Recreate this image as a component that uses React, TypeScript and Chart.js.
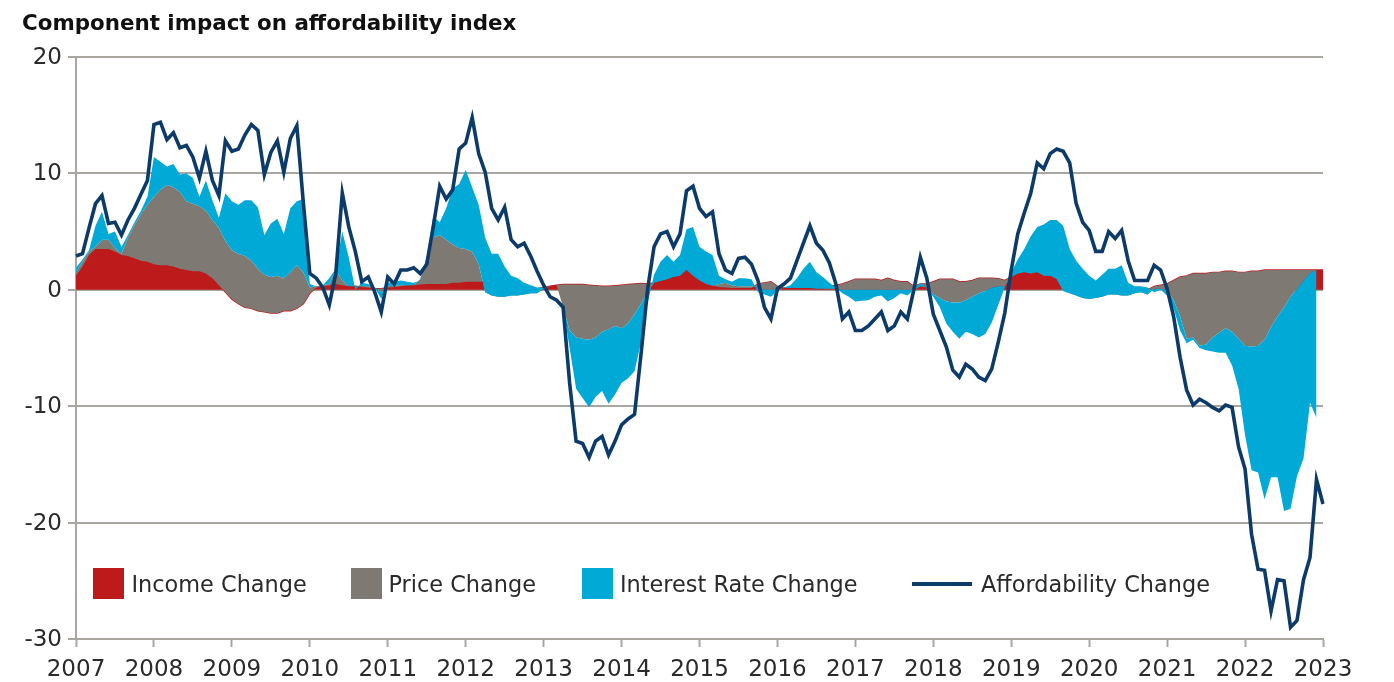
import React, { useEffect, useRef } from 'react';
import { Chart, registerables } from 'chart.js';

Chart.register(...registerables);

// ---- categories: monthly, Jan 2007 .. Jan 2023 ----
const months: string[] = [];
for (let y = 2007; y <= 2023; y++) {
  for (let m = 1; m <= 12; m++) {
    if (y === 2023 && m > 1) break;
    months.push(`${y}-${String(m).padStart(2, '0')}`);
  }
}
const yearTickLabels = ['2007','2008','2009','2010','2011','2012','2013','2014','2015','2016','2017','2018','2019','2020','2021','2022','2023'];
const yTickValues = [20, 10, 0, -10, -20, -30];

// ---- series (component contributions, index points) ----
const incomeChange: (number | null)[] = [
  1.2, 2.0, 3.0, 3.5, 3.5, 3.5, 3.3, 3.0, 2.9, 2.7, 2.5, 2.4,
  2.2, 2.1, 2.1, 2.0, 1.8, 1.7, 1.6, 1.6, 1.4, 1.0, 0.4, -0.2,
  -0.8, -1.2, -1.5, -1.6, -1.8, -1.9, -2.0, -2.0, -1.8, -1.8, -1.6, -1.2,
  -0.3, 0.2, 0.3, 0.4, 0.5, 0.4, 0.3, 0.3, 0.25, 0.2, 0.1, 0.1,
  0.2, 0.25, 0.3, 0.35, 0.4, 0.45, 0.5, 0.5, 0.5, 0.5, 0.6, 0.6,
  0.7, 0.7, 0.7, 0.7, 0.6, 0.5, 0.4, 0.3, 0.2, 0.15, 0.1, 0.1,
  0.2, 0.3, 0.4, 0.45, 0.45, 0.45, 0.45, 0.4, 0.35, 0.3, 0.3, 0.35,
  0.4, 0.45, 0.5, 0.55, 0.5, 0.6, 0.75, 0.9, 1.1, 1.2, 1.7, 1.2,
  0.8, 0.5, 0.35, 0.25, 0.2, 0.15, 0.15, 0.15, 0.15, 0.5, 0.6, 0.7,
  0.3, 0.15, 0.15, 0.15, 0.15, 0.15, 0.1, 0.1, 0.3, 0.4, 0.5, 0.7,
  0.9, 0.9, 0.9, 0.9, 0.8, 1.0, 0.8, 0.7, 0.7, 0.3, 0.5, 0.5,
  0.7, 0.9, 0.9, 0.9, 0.7, 0.7, 0.8, 1.0, 1.0, 1.0, 0.95, 0.8,
  1.1, 1.4, 1.5, 1.4, 1.5, 1.2, 1.2, 0.9, 0.3, 0.1, 0.0, 0.0,
  0.0, 0.0, 0.0, 0.0, 0.0, 0.0, 0.0, 0.0, 0.0, 0.0, 0.3, 0.4,
  0.5, 0.8, 1.1, 1.2, 1.4, 1.4, 1.4, 1.5, 1.5, 1.6, 1.6, 1.5,
  1.5, 1.6, 1.6, 1.7, 1.7, 1.7, 1.7, 1.7, 1.7, 1.7, 1.7, 1.7,
  1.7,
];

const priceChange: (number | null)[] = [
  0.3, 0.4, 0.3, 0.2, 0.8, 0.8, 0.3, 0.1, 1.6, 2.9, 4.0, 4.9,
  5.8, 6.5, 6.9, 6.8, 6.6, 5.9, 5.8, 5.6, 5.4, 5.0, 4.9, 4.4,
  4.2, 4.3, 4.4, 4.1, 3.6, 3.2, 3.1, 3.2, 2.8, 3.3, 3.7, 2.7,
  0.5, 0.1, 0.1, 0.1, 1.2, 0.4, 0.0, 0.0, 0.05, 0.1, 0.1, -0.3,
  0.1, 0.1, 0.1, 0.05, 0.0, 0.45, 2.3, 4.0, 4.2, 3.8, 3.3, 3.0,
  2.8, 2.6, 1.5, -0.9, -1.1, -1.1, -1.0, -0.8, -0.7, -0.55, -0.4, -0.4,
  -0.1, 0.0, 0.0, -1.95, -3.95, -4.55, -4.65, -4.7, -4.45, -3.9, -3.7, -3.45,
  -3.7, -3.35, -2.6, -1.75, -0.7, 0.0, 0.0, 0.0, 0.0, 0.0, 0.0, 0.0,
  0.0, 0.0, 0.0, 0.25, 0.4, 0.25, 0.15, 0.15, 0.15, -0.3, -0.6, -0.7,
  -0.2, 0.0, 0.0, 0.0, 0.0, 0.0, 0.0, 0.0, -0.2, -0.3, -0.5, -0.7,
  -0.9, -0.9, -0.9, -0.9, -0.8, -1.0, -0.8, -0.7, -0.7, -0.3, -0.2, -0.3,
  -1.1, -1.6, -1.9, -2.0, -1.8, -1.6, -1.4, -1.3, -1.1, -0.8, -0.65, -0.5,
  0.0, 0.0, 0.0, 0.0, 0.0, 0.0, 0.0, 0.0, -0.4, -0.4, -0.5, -0.7,
  -0.8, -0.7, -0.6, -0.4, -0.4, -0.5, -0.5, -0.3, -0.2, -0.4, -0.2, -0.3,
  -0.5, -1.7, -3.4, -5.4, -5.5, -6.2, -6.1, -5.6, -5.2, -4.9, -5.2, -5.7,
  -6.3, -6.5, -6.4, -6.0, -4.9, -4.0, -3.2, -2.3, -1.6, -0.9, -0.25, 0.0,
  null,
];

const interestRateChange: (number | null)[] = [
  0.4, 0.2, 0.1, 1.8, 2.4, 0.5, 1.4, 0.6, 0.2, 0.2, 0.3, 0.7,
  3.4, 2.4, 1.6, 2.0, 1.5, 2.4, 2.2, 0.8, 2.6, 1.7, 0.9, 4.1,
  4.2, 4.2, 4.8, 5.2, 5.3, 3.4, 4.6, 4.9, 3.8, 5.5, 5.5, 6.3,
  0.3, 0.0, 0.0, 0.5, 0.1, 4.2, 2.5, -0.3, 0.3, 0.2, 0.0, -0.6,
  0.3, 0.35, 0.4, 0.3, 0.2, -0.1, 0.0, 1.8, 1.1, 2.7, 4.8, 5.5,
  6.8, 5.5, 5.1, 4.7, 3.6, 3.7, 2.6, 1.7, 1.5, 1.0, 0.7, 0.5,
  0.1, 0.0, 0.0, 0.0, -1.5, -4.4, -5.1, -5.8, -5.1, -5.1, -6.4, -5.9,
  -4.7, -4.7, -4.9, -3.3, -1.0, 0.7, 1.65, 2.1, 1.3, 1.8, 3.5, 4.2,
  2.9, 2.8, 2.65, 0.7, 0.3, 0.3, 0.7, 0.7, 0.6, -0.4, -0.4, -0.6,
  -0.2, 0.05, 0.25, 0.85, 1.65, 2.25, 1.4, 1.0, 0.5, 0.1, -0.3, -0.6,
  -1.0, -0.95, -0.9, -0.6, -0.5, -1.0, -0.7, -0.3, -0.5, 0.0, 0.3, -0.1,
  -0.2, -0.8, -1.9, -2.5, -3.1, -2.7, -3.2, -3.8, -3.7, -3.0, -1.6, -0.1,
  0.4, 1.2, 2.0, 3.2, 3.9, 4.4, 4.8, 5.1, 5.6, 3.8, 3.0, 2.5,
  2.0, 1.5, 1.9, 2.2, 2.2, 2.6, 1.1, 0.6, 0.5, 0.6, -0.3, -0.1,
  -0.5, -0.7, -1.2, -0.4, -0.2, -0.2, -0.5, -1.2, -1.7, -2.1, -2.9, -4.3,
  -7.7, -10.6, -10.9, -13.7, -12.9, -13.8, -17.5, -18.2, -16.1, -15.3, -11.15, -12.7,
  null,
];

const affordabilityChange: number[] = [
  2.9, 3.1, 5.3, 7.4, 8.1, 5.7, 5.8, 4.7, 6.0, 7.0, 8.2, 9.4,
  14.2, 14.4, 12.9, 13.5, 12.2, 12.4, 11.4, 9.6, 11.9, 9.4, 8.1, 12.8,
  11.9, 12.1, 13.3, 14.2, 13.7, 9.9, 11.8, 12.8, 10.1, 13.0, 14.1, 7.5,
  1.4, 1.0, 0.2, -1.3, 1.4, 8.3, 5.4, 3.3, 0.7, 1.1, -0.2, -1.9,
  1.1, 0.5, 1.7, 1.7, 1.9, 1.4, 2.2, 5.4, 8.9, 7.8, 8.6, 12.1,
  12.6, 14.8, 11.7, 10.1, 7.0, 6.0, 7.1, 4.3, 3.7, 4.0, 2.9, 1.6,
  0.4, -0.6, -0.9, -1.5, -8.0, -13.0, -13.2, -14.4, -13.0, -12.6, -14.2, -13.0,
  -11.6, -11.1, -10.7, -5.5, 0.0, 3.7, 4.8, 5.0, 3.7, 4.8, 8.5, 8.9,
  7.0, 6.3, 6.7, 3.1, 1.7, 1.4, 2.7, 2.8, 2.2, 0.8, -1.5, -2.5,
  0.1, 0.5, 1.0, 2.5, 4.0, 5.5, 4.0, 3.4, 2.3, 0.5, -2.5, -1.9,
  -3.5, -3.5, -3.1, -2.5, -1.9, -3.5, -3.1, -1.9, -2.5, 0.0, 2.8, 1.0,
  -2.1, -3.5, -4.9, -6.9, -7.5, -6.4, -6.8, -7.5, -7.8, -6.8, -4.5, -2.0,
  1.7, 4.8, 6.6, 8.3, 10.9, 10.4, 11.7, 12.1, 11.9, 10.9, 7.4, 5.8,
  5.1, 3.3, 3.3, 5.0, 4.4, 5.1, 2.5, 0.8, 0.8, 0.8, 2.1, 1.7,
  0.1, -2.3, -5.8, -8.6, -9.9, -9.4, -9.7, -10.1, -10.4, -9.9, -10.1, -13.5,
  -15.4, -21.0, -24.0, -24.1, -27.6, -24.9, -25.0, -29.0, -28.4, -24.9, -23.0, -16.3,
  -18.4,
];

// ---- styling ----
const RED = '#BD1A1C';
const GREY = '#7E7A73';
const CYAN = '#00A9D6';
const NAVY = '#0C3A69';
const GRID = '#A9A6A2';
const TEXT = '#2A2A2A';
const FONT = "'DejaVu Sans', 'Noto Sans', sans-serif";

// cumulative boundaries (stacked-area layout), built from the component series
const sumSeries = (a: (number | null)[], b: (number | null)[]) =>
  a.map((v, i) => (v === null || b[i] === null ? null : (v as number) + (b[i] as number)));
const stackIncome = incomeChange;
const stackPrice = sumSeries(stackIncome, priceChange);
const stackInterest = sumSeries(stackPrice, interestRateChange);

export default function App() {
  const canvasRef = useRef<HTMLCanvasElement | null>(null);

  useEffect(() => {
    const canvas = canvasRef.current;
    if (!canvas) return;
    const chart = new Chart(canvas, {
      type: 'line',
      data: {
        labels: months,
        datasets: [
          {
            label: 'Interest Rate Change',
            data: stackInterest,
            backgroundColor: CYAN,
            borderColor: 'rgba(0,0,0,0)',
            borderWidth: 0,
            pointRadius: 0,
            fill: 1,
            tension: 0,
          },
          {
            label: 'Price Change',
            data: stackPrice,
            backgroundColor: GREY,
            borderColor: 'rgba(0,0,0,0)',
            borderWidth: 0,
            pointRadius: 0,
            fill: 2,
            tension: 0,
          },
          {
            label: 'Income Change',
            data: stackIncome,
            backgroundColor: RED,
            borderColor: RED,
            borderWidth: 1.4,
            pointRadius: 0,
            fill: 'origin',
            tension: 0,
          },
          {
            label: 'Affordability Change',
            data: affordabilityChange,
            borderColor: NAVY,
            borderWidth: 3.6,
            pointRadius: 0,
            fill: false,
            tension: 0,
            order: -1,
          },
        ],
      },
      options: {
        responsive: false,
        animation: false,
        devicePixelRatio: 1,
        layout: { padding: { top: 57, right: 71, bottom: 0, left: 0 } },
        plugins: {
          legend: { display: false },
          title: { display: false },
          tooltip: { enabled: false },
        },
        elements: { line: { borderJoinStyle: 'miter' } },
        scales: {
          x: {
            type: 'category',
            offset: false,
            afterFit: (scale: any) => {
              scale.height = 43;
            },
            border: { display: true, color: GRID, width: 2 },
            grid: {
              drawOnChartArea: false,
              drawTicks: true,
              tickLength: 8,
              tickWidth: 2,
              tickColor: (ctx: any) => (ctx.index % 12 === 0 ? GRID : 'rgba(0,0,0,0)'),
            },
            ticks: {
              autoSkip: false,
              maxRotation: 0,
              minRotation: 0,
              padding: 9,
              color: TEXT,
              font: { family: FONT, size: 23 },
              callback: (_v: any, i: number) => (i % 12 === 0 ? yearTickLabels[i / 12] : ''),
            },
          },
          y: {
            min: yTickValues[yTickValues.length - 1],
            max: yTickValues[0],
            afterFit: (scale: any) => {
              scale.width = 76;
            },
            border: { display: true, color: GRID, width: 2 },
            grid: { color: GRID, lineWidth: 2, tickLength: 8, tickColor: GRID, tickWidth: 2 },
            ticks: {
              stepSize: 10,
              padding: 6,
              labelOffset: 1,
              color: TEXT,
              font: { family: FONT, size: 23 },
            },
          },
        },
      },
    });
    return () => chart.destroy();
  }, []);

  const legendText: React.CSSProperties = {
    position: 'absolute',
    top: 571,
    fontFamily: FONT,
    fontSize: 22.4,
    color: TEXT,
    whiteSpace: 'nowrap',
    lineHeight: 'normal',
    fontWeight: 400,
  };
  const box = (left: number, color: string): React.CSSProperties => ({
    position: 'absolute',
    left,
    top: 568,
    width: 31,
    height: 31,
    background: color,
  });

  return (
    <div style={{ position: 'fixed', left: 0, top: 0, width: 1394, height: 682, background: '#fff' }}>
      <canvas ref={canvasRef} width={1394} height={682} style={{ position: 'absolute', left: 0, top: 0, width: 1394, height: 682 }} />
      <div
        style={{
          position: 'absolute',
          left: 22,
          top: 9.5,
          fontFamily: FONT,
          fontWeight: 700,
          fontSize: 21.4,
          color: '#111',
          whiteSpace: 'nowrap',
          lineHeight: 'normal',
        }}
      >
        Component impact on affordability index
      </div>
      <div style={box(93, RED)} />
      <div style={{ ...legendText, left: 131.5 }}>Income Change</div>
      <div style={box(351, GREY)} />
      <div style={{ ...legendText, left: 388.5 }}>Price Change</div>
      <div style={box(582, CYAN)} />
      <div style={{ ...legendText, left: 620 }}>Interest Rate Change</div>
      <div style={{ position: 'absolute', left: 912, top: 581.5, width: 60, height: 4, background: NAVY }} />
      <div style={{ ...legendText, left: 981 }}>Affordability Change</div>
    </div>
  );
}
